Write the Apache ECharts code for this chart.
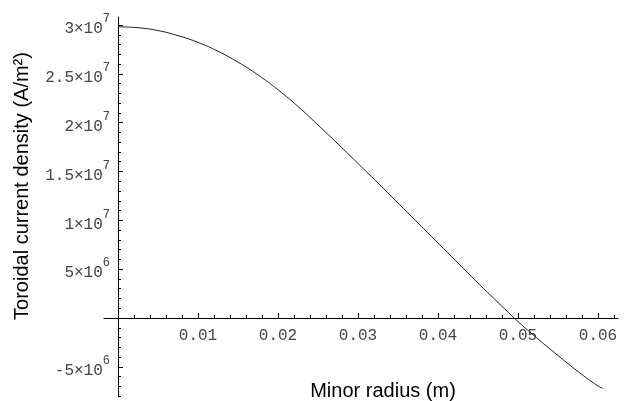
<!DOCTYPE html>
<html>
<head>
<meta charset="utf-8">
<script src="https://cdn.jsdelivr.net/npm/echarts@6/dist/echarts.min.js"></script>
<style>
html,body{margin:0;padding:0;background:#fff;}
#chart{width:636px;height:401px;}
</style>
</head>
<body>
<div id="chart"></div>
<script>
// curve (x in m, y in A/m^2)
var radius = [0, 0.0025, 0.005, 0.0075, 0.01, 0.0125, 0.015, 0.0175, 0.02, 0.0225, 0.025, 0.0275, 0.03,
    0.0325, 0.035, 0.0375, 0.04, 0.0425, 0.045, 0.0475, 0.05, 0.0525, 0.055, 0.0575, 0.06, 0.0606];
var density = [2.982e7, 2.972e7, 2.943e7, 2.891e7, 2.822e7, 2.731e7, 2.620e7, 2.489e7, 2.337e7, 2.166e7,
    1.976e7, 1.782e7, 1.582e7, 1.382e7, 1.177e7, 0.973e7, 0.768e7, 0.563e7, 0.358e7, 0.159e7,
    -0.036e7, -0.215e7, -0.384e7, -0.548e7, -0.696e7, -0.720e7];

// ticks
var xMajor = [0, 0.01, 0.02, 0.03, 0.04, 0.05, 0.06];
var xLabels = [0.01, 0.02, 0.03, 0.04, 0.05, 0.06];
var xMinor = [];
var yMajor = [-5e6, 0, 5e6, 1e7, 1.5e7, 2e7, 2.5e7, 3e7];
var yLabels = [-5e6, 5e6, 1e7, 1.5e7, 2e7, 2.5e7, 3e7];
var yMinor = [];
for (var i = 0; i <= 31; i++) { if (i % 5 != 0) xMinor.push(+(i * 0.002).toFixed(3)); }
for (var j = -8; j <= 30; j++) { if (j % 5 != 0) yMinor.push(j * 1e6); }

var xTitle = "Minor radius (m)";
var yTitle = "Toroidal current density (A/m\u00b2)";

var xMin = -0.00175, xMax = 0.0625;
var yMin = -8.09e6, yMax = 3.082e7;

function sciLabel(v) {
    var e = Math.floor(Math.log10(Math.abs(v)));
    var m = +(v / Math.pow(10, e)).toFixed(2);
    return "{b|" + m + "\u00d710}{s|" + e + "}";
}

var mono = "'Liberation Mono', 'Courier New', monospace";
var sans = "'Liberation Sans', Arial, sans-serif";

// axes sit on the zero lines: grid is 104..618 x 17..397, zero falls at x=118, y=318
var chart = echarts.init(document.getElementById('chart'));
var option = {
    animation: false,
    backgroundColor: '#fff',
    grid: { left: 104, right: 18, top: 17, bottom: 4, outerBoundsMode: 'none', containLabel: false },
    xAxis: [{
        type: 'value', position: 'bottom', offset: -79, min: xMin, max: xMax,
        axisLine: { show: true, onZero: false, lineStyle: { color: '#000', width: 1 } },
        axisTick: { show: true, inside: true, length: 5, customValues: xMajor, lineStyle: { color: '#000' } },
        axisLabel: { show: true, customValues: xLabels, margin: 10, color: '#444',
            fontFamily: mono, fontSize: 16, formatter: function (v) { return v.toFixed(2); } },
        splitLine: { show: false }
    }, {
        type: 'value', position: 'bottom', offset: -79, min: xMin, max: xMax,
        axisLine: { show: false, onZero: false },
        axisTick: { show: true, inside: true, length: 3, customValues: xMinor, lineStyle: { color: '#000' } },
        axisLabel: { show: false },
        splitLine: { show: false }
    }],
    yAxis: [{
        type: 'value', position: 'left', offset: -14, min: yMin, max: yMax,
        axisLine: { show: true, onZero: false, lineStyle: { color: '#000', width: 1 } },
        axisTick: { show: true, inside: true, length: 5, customValues: yMajor, lineStyle: { color: '#000' } },
        axisLabel: { show: true, customValues: yLabels, margin: 8, formatter: sciLabel,
            rich: {
                b: { fontFamily: mono, fontSize: 16, color: '#444', lineHeight: 24, verticalAlign: 'bottom' },
                s: { fontFamily: mono, fontSize: 12, color: '#444', lineHeight: 12, verticalAlign: 'top' }
            } },
        splitLine: { show: false }
    }, {
        type: 'value', position: 'left', offset: -14, min: yMin, max: yMax,
        axisLine: { show: false, onZero: false },
        axisTick: { show: true, inside: true, length: 3, customValues: yMinor, lineStyle: { color: '#000' } },
        axisLabel: { show: false },
        splitLine: { show: false }
    }],
    series: [{
        type: 'line',
        xAxisIndex: 0,
        yAxisIndex: 0,
        smooth: true,
        showSymbol: false,
        lineStyle: { color: '#222', width: 1 },
        data: radius.map(function (r, k) { return [r, density[k]]; })
    }],
    graphic: [{
        type: 'text', x: 383, y: 391,
        style: { text: xTitle, font: '20px ' + sans, fill: '#000', align: 'center', verticalAlign: 'middle' }
    }, {
        type: 'text', x: 22, y: 186, rotation: Math.PI / 2,
        style: { text: yTitle, font: '20px ' + sans, fill: '#000', align: 'center', verticalAlign: 'middle' }
    }]
};
chart.setOption(option);
</script>
</body>
</html>
